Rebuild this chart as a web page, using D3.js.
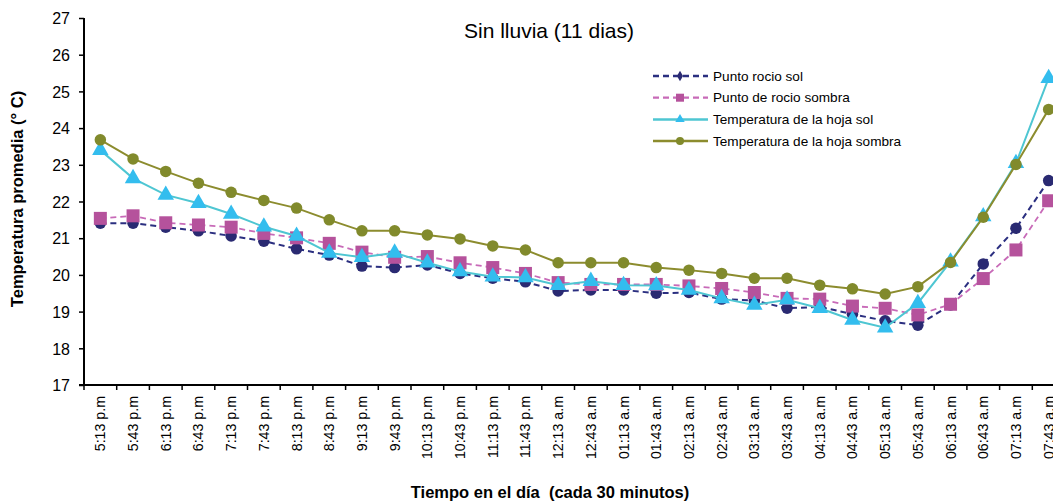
<!DOCTYPE html>
<meta charset="utf-8">
<script src="https://d3js.org/d3.v7.min.js"></script>
<style>
  body { margin: 0; background: #fff; overflow: hidden; }
  text { font-family: "Liberation Sans", Arial, sans-serif; fill: #000; }
</style>
<div id="my_dataviz"></div>
<script>

// categories (x axis)
var horas = ["5:13 p.m", "5:43 p.m", "6:13 p.m", "6:43 p.m", "7:13 p.m", "7:43 p.m",
  "8:13 p.m", "8:43 p.m", "9:13 p.m", "9:43 p.m", "10:13 p.m", "10:43 p.m",
  "11:13 p.m", "11:43 p.m", "12:13 a.m", "12:43 a.m", "01:13 a.m", "01:43 a.m",
  "02:13 a.m", "02:43 a.m", "03:13 a.m", "03:43 a.m", "04:13 a.m", "04:43 a.m",
  "05:13 a.m", "05:43 a.m", "06:13 a.m", "06:43 a.m", "07:13 a.m", "07:43 a.m"];

// series values
var puntoRocioSol = [21.41, 21.41, 21.3, 21.2, 21.06, 20.92, 20.71, 20.54, 20.24, 20.2,
  20.27, 20.04, 19.91, 19.81, 19.56, 19.59, 19.59, 19.5, 19.52, 19.34,
  19.3, 19.09, 19.13, 18.93, 18.75, 18.63, 19.18, 20.3, 21.27, 22.57];
var puntoRocioSombra = [21.54, 21.61, 21.42, 21.36, 21.3, 21.13, 21.01, 20.86, 20.62, 20.48,
  20.5, 20.33, 20.2, 20.04, 19.79, 19.74, 19.74, 19.74, 19.7, 19.63,
  19.52, 19.36, 19.34, 19.15, 19.09, 18.91, 19.2, 19.9, 20.68, 22.02];
var tempHojaSol = [23.4, 22.63, 22.18, 21.95, 21.66, 21.31, 21.06, 20.6, 20.48, 20.6,
  20.33, 20.09, 19.95, 19.93, 19.72, 19.83, 19.72, 19.71, 19.59, 19.36,
  19.18, 19.32, 19.09, 18.77, 18.56, 19.23, 20.36, 21.59, 23.04, 25.36];
var tempHojaSombra = [23.68, 23.16, 22.82, 22.5, 22.25, 22.03, 21.82, 21.5, 21.2, 21.2,
  21.09, 20.98, 20.79, 20.68, 20.33, 20.33, 20.33, 20.2, 20.13, 20.04,
  19.91, 19.91, 19.72, 19.62, 19.48, 19.68, 20.34, 21.57, 23.01, 24.51];

var yTicks = [17, 18, 19, 20, 21, 22, 23, 24, 25, 26, 27];

(function () {

  var series = [
    { name: "Punto rocio sol", values: puntoRocioSol, line: "#2b2f80", fill: "#2a2a72", dash: "6,4", width: 2, shape: "circle", legendShape: "diamond" },
    { name: "Punto de rocio sombra", values: puntoRocioSombra, line: "#c86ab8", fill: "#b5529c", dash: "6,4", width: 1.8, shape: "square", legendShape: "square" },
    { name: "Temperatura de la hoja sol", values: tempHojaSol, line: "#4ec6d2", fill: "#33bdee", dash: null, width: 2, shape: "triangle", legendShape: "triangle" },
    { name: "Temperatura de la hoja sombra", values: tempHojaSombra, line: "#8c8c2e", fill: "#818a2c", dash: null, width: 2, shape: "circle", legendShape: "circle" }
  ];

  var W = 1053, H = 502;
  var mLeft = 84, mTop = 18, mBottom = 385;
  var step = 32.7;

  var svg = d3.select("#my_dataviz").append("svg")
    .attr("width", W).attr("height", H);

  var x = d3.scaleBand()
    .domain(horas)
    .range([mLeft, mLeft + step * horas.length])
    .padding(0);

  var y = d3.scaleLinear().domain([17, 27]).range([mBottom, mTop]);

  function cx(i) { return x(horas[i]) + x.bandwidth() / 2; }

  // y axis
  var yAxis = svg.append("g")
    .attr("transform", "translate(" + mLeft + ",0)")
    .call(d3.axisLeft(y).tickValues(yTicks).tickSize(5).tickPadding(9).tickFormat(d3.format("d")));
  yAxis.select(".domain").attr("stroke", "#000").attr("stroke-width", 2).attr("d", "M0," + mTop + "V" + mBottom);
  yAxis.selectAll(".tick line").attr("stroke", "#000").attr("stroke-width", 1.5);
  yAxis.selectAll(".tick text").style("font-size", "16px").attr("dy", "0.36em");

  // x axis
  var xAxis = svg.append("g")
    .attr("transform", "translate(0," + mBottom + ")")
    .call(d3.axisBottom(x).tickSize(0).tickPadding(0));
  xAxis.select(".domain").attr("stroke", "#000").attr("stroke-width", 2).attr("d", "M" + (mLeft - 5) + ",0H" + W);
  xAxis.selectAll(".tick text")
    .style("font-size", "14.2px")
    .attr("text-anchor", "end")
    .attr("transform", "rotate(-90)")
    .attr("x", -11)
    .attr("y", 0)
    .attr("dy", "0.35em");
  // tick marks between categories
  svg.append("g").selectAll("line")
    .data(horas)
    .join("line")
    .attr("x1", function (d) { return x(d); })
    .attr("x2", function (d) { return x(d); })
    .attr("y1", mBottom)
    .attr("y2", mBottom + 5)
    .attr("stroke", "#000")
    .attr("stroke-width", 1.5);

  // axis titles
  svg.append("text")
    .attr("x", 550).attr("y", 498)
    .attr("text-anchor", "middle")
    .attr("xml:space", "preserve")
    .style("font-size", "16.5px").style("font-weight", "bold")
    .text("Tiempo en el día  (cada 30 minutos)");

  svg.append("text")
    .attr("transform", "translate(23,199) rotate(-90)")
    .attr("text-anchor", "middle")
    .style("font-size", "16.5px").style("font-weight", "bold")
    .text("Temperatura promedia (° C)");

  // title
  svg.append("text")
    .attr("x", 549).attr("y", 38)
    .attr("text-anchor", "middle")
    .style("font-size", "21px")
    .text("Sin lluvia (11 dias)");

  function marker(g, shape, size, fill) {
    if (shape === "circle") {
      g.append("circle").attr("r", size / 2).attr("fill", fill);
    } else if (shape === "square") {
      g.append("rect").attr("x", -size / 2).attr("y", -size / 2).attr("width", size).attr("height", size).attr("fill", fill);
    } else if (shape === "triangle") {
      g.append("path").attr("d", d3.symbol().type(d3.symbolTriangle).size(size * size * 0.6)).attr("fill", fill);
    } else if (shape === "diamond") {
      g.append("path").attr("d", d3.symbol().type(d3.symbolDiamond).size(size * size * 0.5)).attr("fill", fill);
    }
  }

  var line = d3.line()
    .x(function (d, i) { return cx(i); })
    .y(function (d) { return y(d); });

  var plot = svg.append("g");
  series.forEach(function (s) {
    var g = plot.append("g");
    g.append("path")
      .datum(s.values)
      .attr("fill", "none")
      .attr("stroke", s.line)
      .attr("stroke-width", s.width)
      .attr("stroke-dasharray", s.dash)
      .attr("d", line);
    s.values.forEach(function (v, i) {
      var m = g.append("g").attr("transform", "translate(" + cx(i) + "," + y(v) + ")");
      var size = s.shape === "square" ? 13 : (s.shape === "triangle" ? 14 : 11.5);
      marker(m, s.shape, size, s.fill);
    });
  });

  // legend
  var legend = svg.append("g");
  series.forEach(function (s, i) {
    var ly = 76 + i * 21.7;
    legend.append("line")
      .attr("x1", 653).attr("x2", 708).attr("y1", ly).attr("y2", ly)
      .attr("stroke", s.line).attr("stroke-width", s.width + 0.5)
      .attr("stroke-dasharray", s.dash);
    var m = legend.append("g").attr("transform", "translate(680," + ly + ")");
    marker(m, s.legendShape, 8, s.fill);
    legend.append("text")
      .attr("x", 713).attr("y", ly).attr("dy", "0.35em")
      .style("font-size", "13.6px")
      .text(s.name);
  });

})();

</script>
